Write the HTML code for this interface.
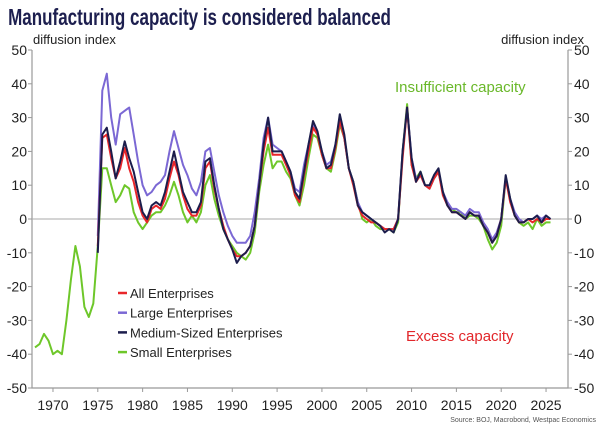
<!DOCTYPE html>
<html><head><meta charset="utf-8"><style>
body{margin:0;background:#fff;}
svg{display:block;font-family:"Liberation Sans",sans-serif;}
</style></head><body>
<svg id="c" width="600" height="429" viewBox="0 0 600 429">
<text x="11" y="25" font-size="23" font-weight="bold" fill="#1d1f4f" transform="scale(0.74,1)">Manufacturing capacity is considered balanced</text>
<text x="33" y="44" font-size="13" fill="#222">diffusion index</text>
<text x="584" y="44" font-size="13" fill="#222" text-anchor="end">diffusion index</text>
<text x="395" y="92" font-size="15" fill="#6ab82a">Insufficient capacity</text>
<text x="406" y="341" font-size="15" fill="#e2262a">Excess capacity</text>
<text x="596" y="422" font-size="7" fill="#555" text-anchor="end">Source: BOJ, Macrobond, Westpac Economics</text>
<g id="axes"></g><g id="plot"></g><g id="legend"></g>
</svg>
<script>
const yTicks=[50,40,30,20,10,0,-10,-20,-30,-40,-50];
const xTicks=[1970,1975,1980,1985,1990,1995,2000,2005,2010,2015,2020,2025];
const smallEarly=[-38,-37,-34,-36,-40,-39,-40,-30,-18,-8,-14,-26,-29,-25];
const large=[-5,38,43,30,22,31,32,33,25,17,10,7,8,10,11,13,20,26,21,16,13,9,7,11,20,21,14,7,2,-2,-5,-7,-7,-7,-5,2,12,24,30,22,21,20,17,14,9,8,16,22,28,25,20,16,17,22,29,24,15,11,5,2,1,0,-1,-2,-3,-3,-3,0,20,33,18,12,13,10,9,12,14,8,5,3,3,2,1,3,2,2,-1,-3,-6,-4,0,12,6,2,0,-1,0,0,1,0,1,0];
const medium=[-10,25,27,20,12,17,23,18,14,8,2,0,4,5,4,8,14,20,14,8,5,2,2,5,17,18,10,3,-3,-6,-9,-13,-11,-10,-8,-2,10,22,30,20,20,20,17,14,8,6,14,22,29,26,20,15,16,22,31,25,15,11,4,2,1,0,-1,-2,-4,-3,-4,0,20,33,18,11,14,10,10,13,15,8,4,2,2,1,0,2,1,1,-2,-4,-7,-5,0,13,6,1,-1,-1,0,0,1,-1,1,0];
const allEnt=[-8,24,25,18,12,15,21,15,11,5,1,-1,3,4,3,6,12,17,13,7,3,1,1,4,15,17,9,3,-2,-6,-9,-11,-11,-10,-8,-2,10,20,27,19,19,19,16,13,7,5,13,20,27,25,19,15,15,21,29,24,15,10,4,1,0,-1,-1,-2,-3,-3,-3,0,18,33,16,11,13,10,9,12,14,7,4,2,2,1,0,2,1,1,-2,-4,-7,-5,0,12,5,1,-1,-1,0,-1,0,-1,0,0];
const small=[-8,15,15,10,5,7,10,9,2,-1,-3,-1,1,2,2,4,7,11,7,2,-1,1,-1,2,10,13,6,1,-3,-6,-8,-10,-11,-12,-10,-4,8,16,22,15,17,17,14,12,7,4,10,18,25,24,19,15,14,20,28,24,15,11,5,0,-1,0,-2,-3,-3,-3,-4,-1,20,34,16,12,14,10,9,12,14,8,4,3,2,2,0,1,1,0,-2,-6,-9,-7,-2,12,6,1,-1,-2,-1,-3,0,-2,-1,-1];
const L=32,R=568,T=50,B=388,X0=1967.66,X1=2027.45;
const sx=v=>L+(v-X0)/(X1-X0)*(R-L);
const sy=v=>T+(50-v)/100*(B-T);
const NS='http://www.w3.org/2000/svg';
function mk(tag,attrs,parent){const e=document.createElementNS(NS,tag);for(const k in attrs)e.setAttribute(k,attrs[k]);parent.appendChild(e);return e;}
const ax=document.getElementById('axes'),pl=document.getElementById('plot'),lg=document.getElementById('legend');
let fr=mk('path',{d:`M${L},${T}V${B}H${R}V${T}`,fill:'none',stroke:'#999','stroke-width':1.2},ax);


let z=mk('line',{x1:L,x2:R,y1:sy(0),y2:sy(0),stroke:'#aaa','stroke-width':1},ax);


yTicks.forEach(v=>{
 mk('line',{x1:L-4,x2:L,y1:sy(v),y2:sy(v),stroke:'#999'},ax);
 mk('line',{x1:R,x2:R+4,y1:sy(v),y2:sy(v),stroke:'#999'},ax);
 let t=mk('text',{x:L-5,y:sy(v)+5,'font-size':14,'text-anchor':'end',fill:'#222'},ax);t.textContent=v;
 
 
 let t2=mk('text',{x:R+6,y:sy(v)+5,'font-size':14,fill:'#222'},ax);t2.textContent=v;
 
 
});
xTicks.forEach(v=>{
 mk('line',{x1:sx(v),x2:sx(v),y1:B,y2:B+4,stroke:'#999'},ax);
 let t=mk('text',{x:sx(v),y:B+22,'font-size':14,'text-anchor':'middle',fill:'#222'},ax);t.textContent=v;
 
 
});
function line(vals,start,color,name){
 const d=vals.map((v,i)=>(i?'L':'M')+sx(start+i*0.5).toFixed(1)+','+sy(v).toFixed(1)).join('');
 const p=mk('path',{d,fill:'none',stroke:color,'stroke-width':2,'stroke-linejoin':'round'},pl);
 
 
}
line(smallEarly.concat(small),1968,'#6ec72a','series-small-enterprises');
line(large,1975,'#7b68d4','series-large-enterprises');
line(allEnt,1975,'#e8262a','series-all-enterprises');
line(medium,1975,'#1c1d4c','series-medium-enterprises');
const legNames=['All Enterprises','Large Enterprises','Medium-Sized Enterprises','Small Enterprises'];
const legColors=['#e8262a','#7b68d4','#1c1d4c','#6ec72a'];
legNames.forEach((n,i)=>{
 const y=293+i*19.7;
 const g=mk('g',{},lg);
 
 
 mk('line',{x1:118,x2:127,y1:y,y2:y,stroke:legColors[i],'stroke-width':2.5},g);
 const t=mk('text',{x:130,y:y+5,'font-size':13,fill:'#222'},g);t.textContent=n;
});
</script>
</body></html>
